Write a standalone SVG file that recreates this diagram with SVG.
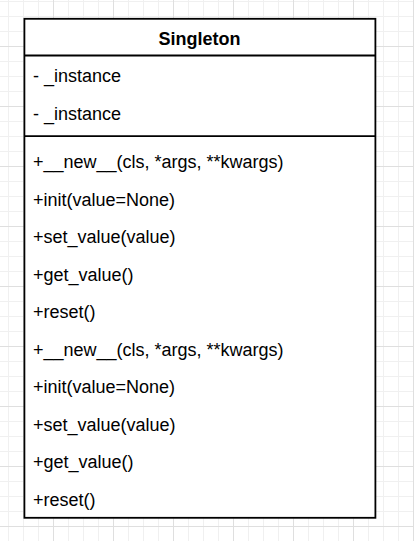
<svg xmlns="http://www.w3.org/2000/svg" width="414" height="541" viewBox="0 0 414 541">
  <defs>
    <!-- 15px minor grid with a heavier line every 60px -->
    <pattern id="grid" x="8" y="1" width="60" height="60" patternUnits="userSpaceOnUse">
      <path d="M0.5 0V60M15.5 0V60M30.5 0V60M0 0.5H60M0 15.5H60M0 30.5H60" stroke="#f0f0f0" stroke-width="1" fill="none"/>
      <path d="M45.5 0V60M0 45.5H60" stroke="#dfdfdf" stroke-width="1" fill="none"/>
    </pattern>
    <style>
      .box { fill: #ffffff; stroke: #000000; stroke-width: 1.8; }
      .sep { stroke: #000000; stroke-width: 1.8; fill: none; }
      .title { font-family: "Liberation Sans", Arial, Helvetica, sans-serif; font-size: 18px; font-weight: bold; fill: #000000; text-anchor: middle; }
      .member { font-family: "Liberation Sans", Arial, Helvetica, sans-serif; font-size: 18px; fill: #000000; }
    </style>
  </defs>

  <rect width="414" height="541" fill="#ffffff"/>
  <rect width="414" height="541" fill="url(#grid)"/>

  <!-- Singleton class -->
  <g id="singleton">
    <rect class="box" x="24.4" y="18.8" width="351" height="499"/>
    <line class="sep" x1="24.4" y1="55.5" x2="375.4" y2="55.5"/>
    <line class="sep" x1="24.4" y1="136.2" x2="375.4" y2="136.2"/>
    <text class="title" x="199.5" y="45">Singleton</text>

    <g id="singleton-attributes">
      <text class="member" x="33" y="81.5">- _instance</text>
      <text class="member" x="33" y="119.5">- _instance</text>
    </g>

    <g id="singleton-methods">
      <text class="member" x="33" y="168">+__new__(cls, *args, **kwargs)</text>
      <text class="member" x="33" y="205.5">+init(value=None)</text>
      <text class="member" x="33" y="243">+set_value(value)</text>
      <text class="member" x="33" y="280.5">+get_value()</text>
      <text class="member" x="33" y="318">+reset()</text>
      <text class="member" x="33" y="355.5">+__new__(cls, *args, **kwargs)</text>
      <text class="member" x="33" y="393">+init(value=None)</text>
      <text class="member" x="33" y="430.5">+set_value(value)</text>
      <text class="member" x="33" y="468">+get_value()</text>
      <text class="member" x="33" y="505.5">+reset()</text>
    </g>
  </g>

  <g id="connectors"/>
</svg>
